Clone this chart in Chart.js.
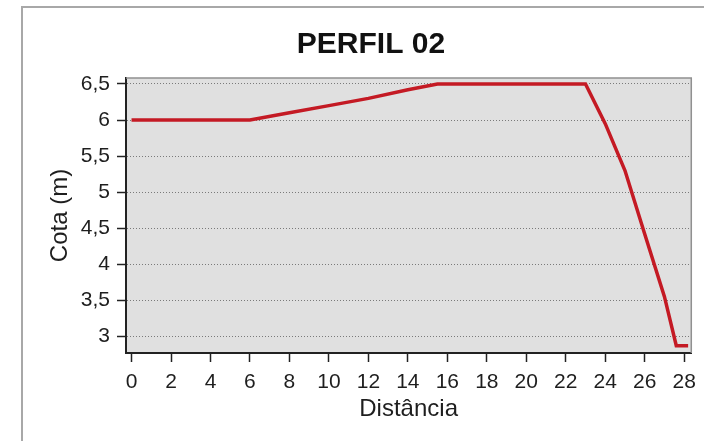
<!DOCTYPE html>
<html>
<head>
<meta charset="utf-8">
<script src="https://cdn.jsdelivr.net/npm/chart.js@4/dist/chart.umd.min.js"></script>
<style>
  html, body { margin: 0; padding: 0; background: #fff; }
  #wrap { width: 704px; height: 441px; }
</style>
</head>
<body>
<div id="wrap"><canvas id="perfil"></canvas></div>
<script>
// profile survey: distance (x) and elevation (y)
const distancia = [0, 6, 8, 10, 12, 14, 15.5, 23, 24, 25, 26, 27, 27.6, 28.2];
const cota = [6, 6, 6.1, 6.2, 6.3, 6.42, 6.5, 6.5, 5.95, 5.3, 4.42, 3.55, 2.87, 2.87];

const xTicks = [0, 2, 4, 6, 8, 10, 12, 14, 16, 18, 20, 22, 24, 26, 28];
const yTicks = [3, 3.5, 4, 4.5, 5, 5.5, 6, 6.5];

const tituloGrafico = "PERFIL 02";
const tituloX = "Distância";
const tituloY = "Cota (m)";

const fontFamily = "'Liberation Sans', Arial, sans-serif";
const textColor = "#1e1e1e";

// grey frame, plot background and the big title
const framePlugin = {
  id: "frame",
  beforeDraw(chart) {
    const { ctx, chartArea: a } = chart;
    ctx.save();
    ctx.fillStyle = "#fff";
    ctx.fillRect(0, 0, chart.width, chart.height);
    ctx.strokeStyle = "#a8a8a8";
    ctx.lineWidth = 2;
    ctx.beginPath();
    ctx.moveTo(22, chart.height);
    ctx.lineTo(22, 7);
    ctx.lineTo(chart.width, 7);
    ctx.stroke();
    ctx.fillStyle = "#e0e0e0";
    ctx.fillRect(a.left, a.top, a.right - a.left, a.bottom - a.top);
    ctx.restore();
  },
  afterDraw(chart) {
    const { ctx, chartArea: a } = chart;
    ctx.save();
    // top and right edges of the plot box
    ctx.strokeStyle = "#909090";
    ctx.lineWidth = 1.5;
    ctx.beginPath();
    ctx.moveTo(a.left, a.top);
    ctx.lineTo(a.right, a.top);
    ctx.lineTo(a.right, a.bottom);
    ctx.stroke();
    ctx.fillStyle = "#111";
    ctx.font = "bold 30px " + fontFamily;
    ctx.textAlign = "center";
    ctx.textBaseline = "middle";
    ctx.fillText(tituloGrafico, 371, 45);
    ctx.restore();
  },
};

const fmt = (v) => String(v).replace(".", ",");

new Chart(document.getElementById("perfil"), {
  type: "line",
  data: {
    datasets: [
      {
        data: distancia.map((d, i) => ({ x: d, y: cota[i] })),
        borderColor: "#c41a24",
        borderWidth: 3.5,
        pointRadius: 0,
        tension: 0,
        fill: false,
      },
    ],
  },
  options: {
    responsive: true,
    maintainAspectRatio: false,
    animation: false,
    layout: { padding: { left: 22, top: 78, right: 11, bottom: 0 } },
    plugins: {
      legend: { display: false },
      tooltip: { enabled: false },
    },
    scales: {
      x: {
        type: "linear",
        min: -0.28,
        max: 28.36,
        afterFit(scale) {
          scale.height = 88;
        },
        afterBuildTicks(scale) {
          scale.ticks = xTicks.map((v) => ({ value: v }));
        },
        grid: {
          drawOnChartArea: false,
          tickLength: 9,
          tickColor: "#222",
          tickWidth: 1.5,
        },
        border: { color: "#222", width: 2 },
        ticks: {
          color: textColor,
          font: { family: fontFamily, size: 21 },
          padding: 8,
          maxRotation: 0,
          autoSkip: false,
          callback: (v) => fmt(v),
        },
        title: {
          display: true,
          text: tituloX,
          color: textColor,
          font: { family: fontFamily, size: 24 },
          padding: { top: 0, bottom: 17 },
        },
      },
      y: {
        min: 2.768,
        max: 6.583,
        afterFit(scale) {
          scale.width = 104;
        },
        afterBuildTicks(scale) {
          scale.ticks = yTicks.map((v) => ({ value: v }));
        },
        grid: {
          color: "#7a7a7a",
          lineWidth: 1,
          tickLength: 9,
          tickColor: "#222",
          tickWidth: 1.5,
          tickBorderDash: [],
        },
        border: { color: "#222", width: 2, dash: [1, 2] },
        ticks: {
          color: textColor,
          font: { family: fontFamily, size: 21 },
          padding: 7,
          autoSkip: false,
          callback: (v) => fmt(v),
        },
        title: {
          display: true,
          text: tituloY,
          color: textColor,
          font: { family: fontFamily, size: 24 },
          padding: { top: 24, bottom: 0 },
        },
      },
    },
  },
  plugins: [framePlugin],
});
</script>
</body>
</html>
